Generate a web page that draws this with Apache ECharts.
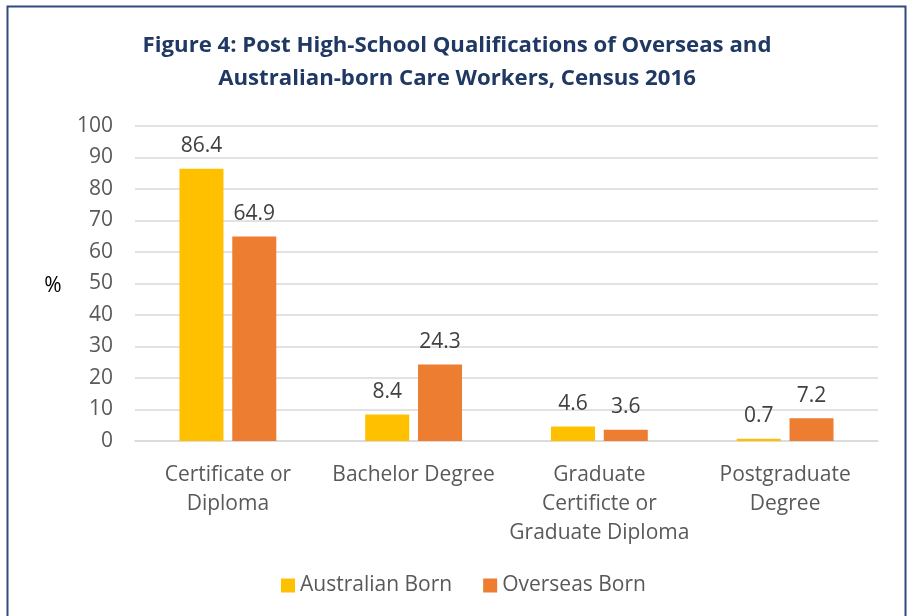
<!DOCTYPE html>
<html><head><meta charset="utf-8">
<script src="https://cdn.jsdelivr.net/npm/echarts@6/dist/echarts.min.js"></script>
<style>html,body{margin:0;padding:0;background:#fff}#c{width:911px;height:616px}</style>
</head><body><div id="c"></div>
<script>
const categories = ["Certificate or\nDiploma", "Bachelor Degree", "Graduate\nCertificte or\nGraduate Diploma", "Postgraduate\nDegree"];
const australianBorn = [86.4, 8.4, 4.6, 0.7];
const overseasBorn = [64.9, 24.3, 3.6, 7.2];
const seriesNames = ["Australian Born", "Overseas Born"];
const titleLines = ["Figure 4: Post High-School Qualifications of Overseas and", "Australian-born Care Workers, Census 2016"];
const yTicks = {min: 0, max: 100, interval: 10};

const FONT = "'Open Sans', 'Noto Sans', sans-serif";
const FS = 21;
const chart = echarts.init(document.getElementById('c'), null, {renderer: 'canvas'});
const labelStyle = {show: true, position: 'top', distance: 12, color: '#404040', fontSize: FS, fontFamily: FONT, formatter: p => p.value.toFixed(1)};
const titleStyle = {fontSize: 22.2, fontWeight: 'bold', fill: '#1F3864', fontFamily: FONT, align: 'center', verticalAlign: 'middle'};
chart.setOption({
  animation: false,
  backgroundColor: '#fff',
  graphic: [
    {type: 'rect', shape: {x: 7.5, y: 6.5, width: 898, height: 640}, style: {fill: 'none', stroke: '#2E4A80', lineWidth: 2}, z: 100},
    {type: 'text', x: 53, y: 286, style: {text: '%', fontSize: FS, fontFamily: FONT, fill: '#000', align: 'center', verticalAlign: 'middle'}},
    {type: 'text', x: 457, y: 46, style: Object.assign({text: titleLines[0]}, titleStyle)},
    {type: 'text', x: 457, y: 79, style: Object.assign({text: titleLines[1]}, titleStyle)}
  ],
  legend: {
    bottom: 15, left: 276, itemWidth: 14, itemHeight: 14, itemGap: 31,
    icon: 'rect',
    textStyle: {fontSize: FS, color: '#595959', fontFamily: FONT},
    data: seriesNames
  },
  grid: {left: 135, right: 33, top: 126, bottom: 175, containLabel: false},
  xAxis: {
    type: 'category', data: categories,
    axisLine: {lineStyle: {color: '#D9D9D9', width: 1.5}},
    axisTick: {show: false},
    axisLabel: {fontSize: FS, color: '#595959', fontFamily: FONT, lineHeight: 29, margin: 20, interval: 0}
  },
  yAxis: {
    type: 'value', min: yTicks.min, max: yTicks.max, interval: yTicks.interval,
    axisLine: {show: false}, axisTick: {show: false},
    axisLabel: {fontSize: FS, color: '#595959', fontFamily: FONT, margin: 22},
    splitLine: {lineStyle: {color: '#D9D9D9', width: 1.5}}
  },
  series: [
    {name: seriesNames[0], type: 'bar', data: australianBorn, itemStyle: {color: '#FFC000'}, barWidth: 44, barGap: '20%', label: labelStyle},
    {name: seriesNames[1], type: 'bar', data: overseasBorn, itemStyle: {color: '#ED7D31'}, barWidth: 44, barGap: '20%', label: labelStyle}
  ]
});
</script></body></html>
